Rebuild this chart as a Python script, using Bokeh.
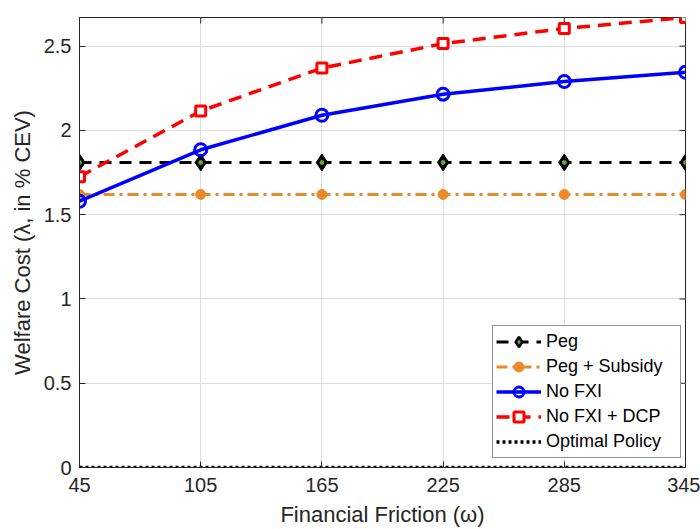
import math
from bokeh.plotting import figure
from bokeh.models import Legend, LegendItem, FixedTicker, Range1d
from bokeh.embed import file_html
from bokeh.resources import INLINE

omega = [45, 105, 165, 225, 285, 345]
peg = [1.81, 1.81, 1.81, 1.81, 1.81, 1.81]
peg_subsidy = [1.62, 1.62, 1.62, 1.62, 1.62, 1.62]
no_fxi = [1.58, 1.885, 2.09, 2.215, 2.29, 2.345]
no_fxi_dcp = [1.725, 2.115, 2.37, 2.515, 2.605, 2.67]
optimal = [0, 0, 0, 0, 0, 0]
x_ticks = [45, 105, 165, 225, 285, 345]
y_ticks = [0, 0.5, 1, 1.5, 2, 2.5]
x_min, x_max = 45, 345
y_min, y_max = 0, 2.67

FONT = "Liberation Sans"
AX = "#262626"

p = figure(width=700, height=529,
           x_range=Range1d(x_min, x_max), y_range=Range1d(y_min, y_max),
           output_backend="svg", toolbar_location=None,
           min_border_left=79, min_border_right=15, min_border_top=17,
           min_border_bottom=60, background_fill_color="white",
           border_fill_color="white", outline_line_color=AX)

for ax in [p.xaxis[0], p.yaxis[0]]:
    ax.major_tick_in = 6
    ax.major_tick_out = 0
    ax.minor_tick_in = 0
    ax.minor_tick_out = 0
    ax.axis_line_color = AX
    ax.major_tick_line_color = AX
    ax.major_label_text_color = AX
    ax.major_label_text_font = FONT
    ax.major_label_text_font_size = "20px"
    ax.axis_label_text_font = FONT
    ax.axis_label_text_font_size = "22px"
    ax.axis_label_text_font_style = "normal"
    ax.axis_label_text_color = AX

p.xaxis[0].ticker = FixedTicker(ticks=x_ticks)
p.yaxis[0].ticker = FixedTicker(ticks=y_ticks)
p.xaxis[0].axis_label = "Financial Friction (ω)"
p.yaxis[0].axis_label = "Welfare Cost (λ, in % CEV)"
p.xaxis[0].major_label_standoff = 10
p.yaxis[0].major_label_standoff = 8
p.xaxis[0].axis_label_standoff = 7
p.yaxis[0].axis_label_standoff = 6
p.yaxis[0].major_label_overrides = {0: "0", 1: "1", 2: "2"}

p.xgrid.grid_line_color = "#DEDEDE"
p.ygrid.grid_line_color = "#DEDEDE"
p.xgrid.ticker = FixedTicker(ticks=x_ticks)
p.ygrid.ticker = FixedTicker(ticks=y_ticks)

# inward ticks on the top and right edges of the box (half of each dash is clipped)
p.scatter(x_ticks, [y_max] * len(x_ticks), marker="dash", angle=math.pi / 2,
          size=12, line_color=AX, line_width=1)
p.scatter([x_max] * len(y_ticks), y_ticks, marker="dash", size=12,
          line_color=AX, line_width=1)

ORANGE = "#EA8A2A"
GREEN = "#6BA32E"

# Peg
l1 = p.line(omega, peg, line_color="black", line_width=3, line_dash="12 8")
m1_leg = p.scatter(omega, peg, marker="diamond", size=10, fill_color=GREEN,
                   line_color="black", line_width=2.5)
m1 = p.scatter(omega, peg, marker="diamond", size=17, fill_color="black",
               line_color="black", line_width=1)
g1 = p.scatter(omega, peg, marker="circle", size=4, fill_color=GREEN, line_color=GREEN)

# Peg + Subsidy
l2 = p.line(omega, peg_subsidy, line_color=ORANGE, line_width=3, line_dash="11 5 3 5")
m2 = p.scatter(omega, peg_subsidy, marker="circle", size=10, fill_color=ORANGE,
               line_color=ORANGE)

# No FXI
l3 = p.line(omega, no_fxi, line_color="#0000FF", line_width=3.5)
m3 = p.scatter(omega, no_fxi, marker="circle", size=12, fill_alpha=0,
               line_color="#0000FF", line_width=3)

# No FXI + DCP
l4 = p.line(omega, no_fxi_dcp, line_color="#FF0000", line_width=3.5, line_dash="13 8")
m4 = p.scatter(omega, no_fxi_dcp, marker="square", size=10, fill_color="white",
               line_color="#FF0000", line_width=3)

# Optimal
l5 = p.line(omega, optimal, line_color="black", line_width=3.5, line_dash="3 3")

legend = Legend(items=[
    LegendItem(label="Peg", renderers=[l1, m1_leg]),
    LegendItem(label="Peg + Subsidy", renderers=[l2, m2]),
    LegendItem(label="No FXI", renderers=[l3, m3]),
    LegendItem(label="No FXI + DCP", renderers=[l4, m4]),
    LegendItem(label="Optimal Policy", renderers=[l5]),
], location=(413, 9))
legend.label_text_font = FONT
legend.label_text_font_size = "18px"
legend.label_text_color = "black"
legend.glyph_width = 45
legend.glyph_height = 25
legend.label_height = 20
legend.label_width = 131
legend.label_standoff = 5
legend.spacing = 0
legend.padding = 3
legend.margin = 0
legend.border_line_color = AX
legend.border_line_width = 1
legend.background_fill_color = "white"
legend.background_fill_alpha = 1
p.add_layout(legend, "center")

open("out.html", "w").write(file_html(p, INLINE))
